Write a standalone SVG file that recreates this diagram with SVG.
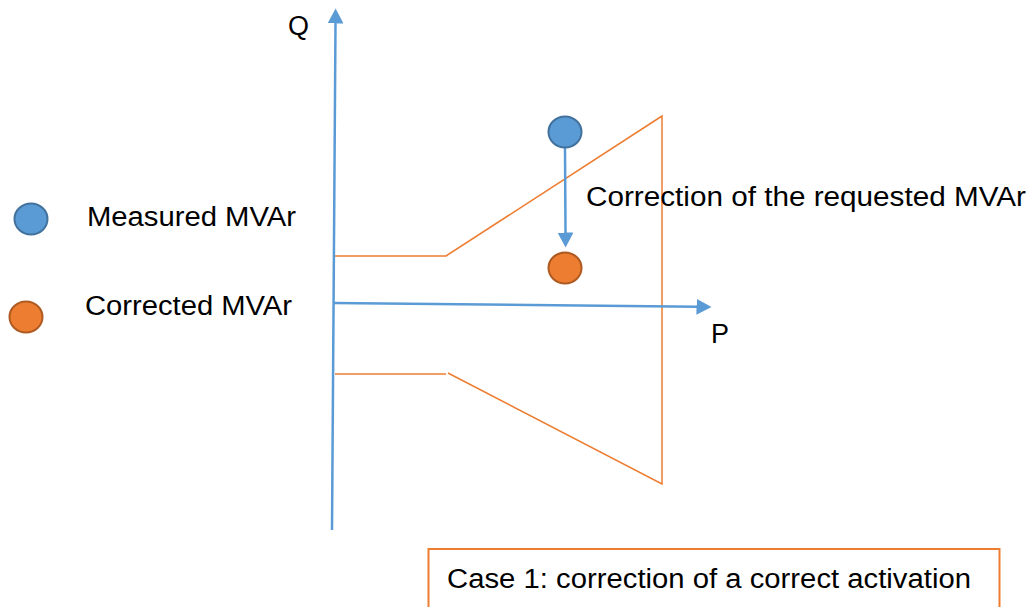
<svg xmlns="http://www.w3.org/2000/svg" width="1031" height="607" viewBox="0 0 1031 607">
  <style>
    .txt { font-family: "Liberation Sans", Arial, sans-serif; font-size: 27px; fill: #000; }
    .axis { stroke: #5B9BD5; stroke-width: 2.5; fill: none; }
    .zone { stroke: #ED7D31; stroke-width: 1.5; fill: none; }
    .meas { fill: #5B9BD5; stroke: #41719C; stroke-width: 2; }
    .corr { fill: #ED7D31; stroke: #AE5A21; stroke-width: 2; }
  </style>
  <defs>
    <marker id="arr" markerUnits="userSpaceOnUse" markerWidth="16" markerHeight="16" viewBox="0 0 16 16" refX="0.5" refY="8" orient="auto">
      <path d="M0,0 L15,8 L0,16 z" fill="#5B9BD5"/>
    </marker>
  </defs>
  <rect width="1031" height="607" fill="#fff"/>

  <g id="zone">
    <polyline class="zone" points="335,256 446,256 662,116 662,484 448,373"/>
    <line class="zone" x1="335" y1="374" x2="446" y2="374"/>
  </g>

  <g id="connectors">
    <line class="axis" x1="332" y1="530" x2="335.5" y2="23" marker-end="url(#arr)"/>
    <line class="axis" x1="333" y1="303" x2="697" y2="306.8" marker-end="url(#arr)"/>
    <line class="axis" x1="565" y1="148" x2="565.5" y2="233" marker-end="url(#arr)"/>
  </g>

  <g id="axis-labels">
    <text class="txt" x="288" y="35" textLength="21" lengthAdjust="spacingAndGlyphs">Q</text>
    <text class="txt" x="711" y="343">P</text>
  </g>

  <g id="measured-point">
    <ellipse class="meas" cx="565" cy="132" rx="16.5" ry="15.5"/>
  </g>
  <g id="corrected-point">
    <ellipse class="corr" cx="565" cy="268" rx="16.5" ry="15.5"/>
  </g>

  <g id="correction-label">
    <text class="txt" x="586" y="206" textLength="440" lengthAdjust="spacingAndGlyphs">Correction of the requested MVAr</text>
  </g>

  <g id="legend-measured">
    <ellipse class="meas" cx="31" cy="219" rx="16.5" ry="15.5"/>
    <text class="txt" x="87" y="226" textLength="209" lengthAdjust="spacingAndGlyphs">Measured MVAr</text>
  </g>
  <g id="legend-corrected">
    <ellipse class="corr" cx="26" cy="317" rx="16.5" ry="15.5"/>
    <text class="txt" x="85" y="315" textLength="207" lengthAdjust="spacingAndGlyphs">Corrected MVAr</text>
  </g>

  <g id="case-box">
    <rect x="428.5" y="549" width="571" height="70" fill="#fff" stroke="#ED7D31" stroke-width="2"/>
    <text class="txt" x="447" y="588" textLength="524" lengthAdjust="spacingAndGlyphs">Case 1: correction of a correct activation</text>
  </g>
</svg>
